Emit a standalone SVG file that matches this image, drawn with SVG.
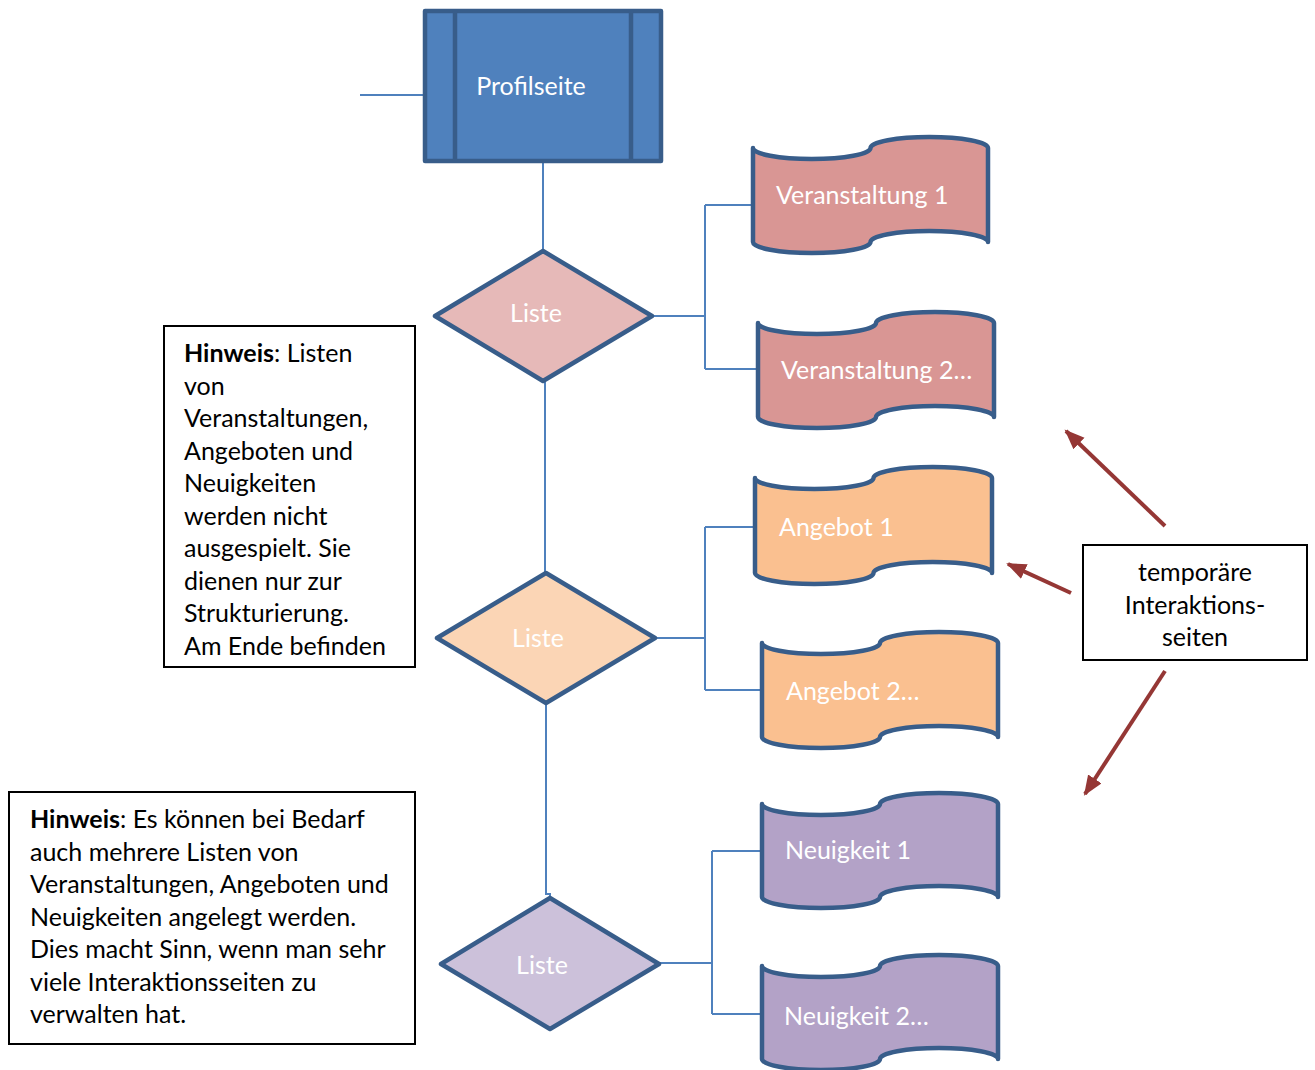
<svg xmlns="http://www.w3.org/2000/svg" width="1315" height="1070" viewBox="0 0 1315 1070">
<style>
.sh{stroke:#385d8a;stroke-width:4.5;stroke-linejoin:round}
.cn{fill:none;stroke:#4f81bd;stroke-width:2}
.ar{fill:none;stroke:#953735;stroke-width:4}
.wt{font-family:Lato,"Open Sans",sans-serif;font-size:25px;fill:#ffffff}
.bt{font-family:Lato,"Open Sans",sans-serif;font-size:25px;fill:#000000}
.box{fill:#ffffff;stroke:#000000;stroke-width:2}
.v{fill:#d99694}.a{fill:#fac090}.n{fill:#b3a2c7}
</style>
<defs>
<marker id="ah" markerUnits="userSpaceOnUse" markerWidth="22" markerHeight="18" refX="18" refY="8" orient="auto">
<path d="M0,0 L20,8 L0,16 Z" fill="#953735"/>
</marker>
</defs>
<g id="connectors">
<path class="cn" d="M360,95 H424"/>
<path class="cn" d="M543,161 V251"/>
<path class="cn" d="M652,316 H705 M705,205 V369 M705,205 H753 M705,369 H758"/>
<path class="cn" d="M545,381 V573"/>
<path class="cn" d="M655,638 H705 M705,527 V690 M705,527 H755 M705,690 H762"/>
<path class="cn" d="M546,703 V894 H550 V898"/>
<path class="cn" d="M659,963 H712 M712,851 V1014 M712,851 H762 M712,1014 H762"/>
<path class="ar" d="M1165,526 L1066,431" marker-end="url(#ah)"/>
<path class="ar" d="M1071,593 L1008,564" marker-end="url(#ah)"/>
<path class="ar" d="M1165,671 L1085,794" marker-end="url(#ah)"/>
</g>
<g id="profilseite">
<rect class="sh" x="425" y="11" width="236" height="150" fill="#4f81bd"/>
<path class="sh" d="M455,11 V161 M631,11 V161" fill="none"/>
<text class="wt" x="531" y="95" text-anchor="middle">Profilseite</text>
</g>
<g id="liste1">
<path class="sh" d="M543,251 L652,316 L543,381 L435,316 Z" fill="#e6b9b8"/>
<text class="wt" x="536" y="322" text-anchor="middle">Liste</text>
</g>
<g id="liste2">
<path class="sh" d="M546,573 L655,638 L546,703 L437,638 Z" fill="#fbd5b5"/>
<text class="wt" x="538" y="647" text-anchor="middle">Liste</text>
</g>
<g id="liste3">
<path class="sh" d="M550,898 L659,964 L550,1029 L441,964 Z" fill="#ccc1da"/>
<text class="wt" x="542" y="974" text-anchor="middle">Liste</text>
</g>
<g id="veranstaltung1">
<path class="sh v" d="M753,148 A58.75,11 0 0 0 870.5,148 A58.75,11 0 0 1 988,148 L988,242 A58.75,11 0 0 0 870.5,242 A58.75,11 0 0 1 753,242 Z"/>
<text class="wt" x="776" y="204">Veranstaltung 1</text>
</g>
<g id="veranstaltung2">
<path class="sh v" d="M758,323 A59,11 0 0 0 876,323 A59,11 0 0 1 994,323 L994,417 A59,11 0 0 0 876,417 A59,11 0 0 1 758,417 Z"/>
<text class="wt" x="781" y="379">Veranstaltung 2…</text>
</g>
<g id="angebot1">
<path class="sh a" d="M755,478 A59.25,11 0 0 0 873.5,478 A59.25,11 0 0 1 992,478 L992,573 A59.25,11 0 0 0 873.5,573 A59.25,11 0 0 1 755,573 Z"/>
<text class="wt" x="779" y="536">Angebot 1</text>
</g>
<g id="angebot2">
<path class="sh a" d="M762,643 A59,11 0 0 0 880,643 A59,11 0 0 1 998,643 L998,737 A59,11 0 0 0 880,737 A59,11 0 0 1 762,737 Z"/>
<text class="wt" x="786" y="700">Angebot 2…</text>
</g>
<g id="neuigkeit1">
<path class="sh n" d="M762,804 A59,11 0 0 0 880,804 A59,11 0 0 1 998,804 L998,897 A59,11 0 0 0 880,897 A59,11 0 0 1 762,897 Z"/>
<text class="wt" x="785" y="859">Neuigkeit 1</text>
</g>
<g id="neuigkeit2">
<path class="sh n" d="M762,966 A59,11 0 0 0 880,966 A59,11 0 0 1 998,966 L998,1059 A59,11 0 0 0 880,1059 A59,11 0 0 1 762,1059 Z"/>
<text class="wt" x="784" y="1025">Neuigkeit 2…</text>
</g>
<g id="hinweis1">
<rect class="box" x="164" y="326" width="251" height="341"/>
<text class="bt" x="184" y="362"><tspan font-weight="bold">Hinweis</tspan>: Listen</text>
<text class="bt" x="184" y="394.5">von</text>
<text class="bt" x="184" y="427">Veranstaltungen,</text>
<text class="bt" x="184" y="459.5">Angeboten und</text>
<text class="bt" x="184" y="492">Neuigkeiten</text>
<text class="bt" x="184" y="524.5">werden nicht</text>
<text class="bt" x="184" y="557">ausgespielt. Sie</text>
<text class="bt" x="184" y="589.5">dienen nur zur</text>
<text class="bt" x="184" y="622">Strukturierung.</text>
<text class="bt" x="184" y="654.5">Am Ende befinden</text>
</g>
<g id="hinweis2">
<rect class="box" x="9" y="792" width="406" height="252"/>
<text class="bt" x="30" y="828"><tspan font-weight="bold">Hinweis</tspan>: Es können bei Bedarf</text>
<text class="bt" x="30" y="860.5">auch mehrere Listen von</text>
<text class="bt" x="30" y="893">Veranstaltungen, Angeboten und</text>
<text class="bt" x="30" y="925.5">Neuigkeiten angelegt werden.</text>
<text class="bt" x="30" y="958">Dies macht Sinn, wenn man sehr</text>
<text class="bt" x="30" y="990.5">viele Interaktionsseiten zu</text>
<text class="bt" x="30" y="1023">verwalten hat.</text>
</g>
<g id="temporaer">
<rect class="box" x="1083" y="545" width="224" height="115"/>
<text class="bt" x="1195" y="581" text-anchor="middle">temporäre</text>
<text class="bt" x="1195" y="614" text-anchor="middle">Interaktions-</text>
<text class="bt" x="1195" y="646" text-anchor="middle">seiten</text>
</g>
</svg>
